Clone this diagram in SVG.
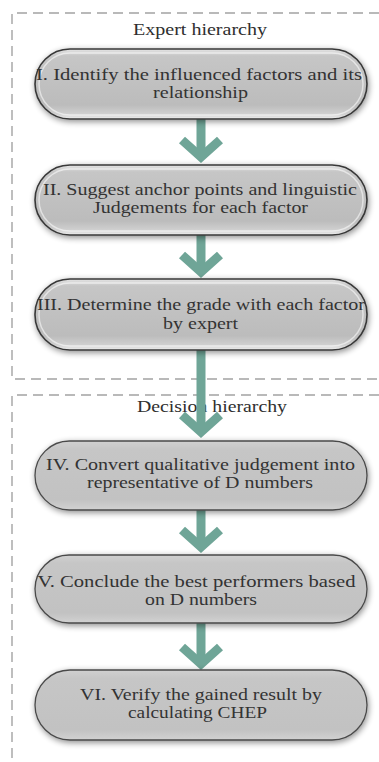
<svg xmlns="http://www.w3.org/2000/svg" width="379" height="762" viewBox="0 0 379 762">
  <defs>
    <linearGradient id="pillTop" x1="0" y1="0" x2="0" y2="1">
      <stop offset="0" stop-color="#e4e4e4"/>
      <stop offset="0.1" stop-color="#c6c6c6"/>
      <stop offset="0.8" stop-color="#bcbcbc"/>
      <stop offset="0.93" stop-color="#d0d0d0"/>
      <stop offset="1" stop-color="#eeeeee"/>
    </linearGradient>
    <linearGradient id="pillBot" x1="0" y1="0" x2="0" y2="1">
      <stop offset="0" stop-color="#d0d0d0"/>
      <stop offset="0.12" stop-color="#c6c6c6"/>
      <stop offset="0.85" stop-color="#c2c2c2"/>
      <stop offset="1" stop-color="#d2d2d2"/>
    </linearGradient>
    <filter id="shadow" x="-10%" y="-30%" width="120%" height="160%">
      <feGaussianBlur in="SourceAlpha" stdDeviation="3"/>
      <feOffset dx="1" dy="2" result="b"/>
      <feComponentTransfer><feFuncA type="linear" slope="0.45"/></feComponentTransfer>
      <feMerge><feMergeNode/><feMergeNode in="SourceGraphic"/></feMerge>
    </filter>
  </defs>
  <style>
    .dash { fill: none; stroke: #a3a3a3; stroke-width: 1.4; stroke-dasharray: 10 6; }
    .title { font-family: "Liberation Serif", "Times New Roman", serif; font-size: 16px; fill: #2e2e2e; text-anchor: middle; }
    .lbl { font-family: "Liberation Serif", "Times New Roman", serif; font-size: 17px; fill: #333333; text-anchor: middle; }
    .pillA { fill: url(#pillTop); stroke: #383838; stroke-width: 1.6; filter: url(#shadow); }
    .pillB { fill: url(#pillBot); stroke: #4a4a4a; stroke-width: 1.3; filter: url(#shadow); }
    .shine { fill: none; stroke: #ffffff; stroke-opacity: 0.55; stroke-width: 1.5; }
    .shaft { fill: #6fa597; }
    .chev { fill: none; stroke: #6fa597; stroke-width: 9; stroke-linejoin: miter; stroke-linecap: butt; }
  </style>

  <g id="expert-hierarchy">
    <path class="dash" d="M379,13 H12 V379 H379"/>
    <text class="title" x="200" y="35" textLength="134" lengthAdjust="spacingAndGlyphs">Expert hierarchy</text>
  </g>
  <g id="decision-hierarchy">
    <path class="dash" d="M379,395 H12 V762"/>
    <text class="title" x="212" y="412" textLength="150" lengthAdjust="spacingAndGlyphs">Decision hierarchy</text>
  </g>

  <g id="connectors">
    <rect class="shaft" x="196.5" y="117" width="9" height="41"/>
    <polyline class="chev" points="182,140 201,157 220,140"/>
    <rect class="shaft" x="196.5" y="233" width="9" height="40"/>
    <polyline class="chev" points="182,255 201,272 220,255"/>
    <rect class="shaft" x="196.5" y="348" width="9" height="85"/>
    <polyline class="chev" points="182,415 201,432 220,415"/>
    <rect class="shaft" x="196.5" y="508" width="9" height="40"/>
    <polyline class="chev" points="182,530 201,547 220,530"/>
    <rect class="shaft" x="196.5" y="621" width="9" height="44"/>
    <polyline class="chev" points="182,647 201,664 220,647"/>
  </g>

  <g id="node-1">
    <rect class="pillA" x="35" y="49" width="332" height="70" rx="35"/>
    <rect class="shine" x="39" y="53" width="324" height="62" rx="31"/>
    <text class="lbl" x="199" y="80" textLength="326" lengthAdjust="spacingAndGlyphs">I. Identify the influenced factors and its</text>
    <text class="lbl" x="200.5" y="98" textLength="95" lengthAdjust="spacingAndGlyphs">relationship</text>
  </g>
  <g id="node-2">
    <rect class="pillA" x="35" y="165" width="332" height="70" rx="35"/>
    <rect class="shine" x="39" y="169" width="324" height="62" rx="31"/>
    <text class="lbl" x="200" y="195" textLength="314" lengthAdjust="spacingAndGlyphs">II. Suggest anchor points and linguistic</text>
    <text class="lbl" x="200.5" y="213" textLength="215" lengthAdjust="spacingAndGlyphs">Judgements for each factor</text>
  </g>
  <g id="node-3">
    <rect class="pillA" x="35" y="279" width="332" height="71" rx="35"/>
    <rect class="shine" x="39" y="283" width="324" height="63" rx="31"/>
    <text class="lbl" x="201" y="310" textLength="328" lengthAdjust="spacingAndGlyphs">III. Determine the grade with each factor</text>
    <text class="lbl" x="200.5" y="329" textLength="75" lengthAdjust="spacingAndGlyphs">by expert</text>
  </g>
  <g id="node-4">
    <rect class="pillB" x="35" y="441" width="332" height="69" rx="34.5"/>
    <text class="lbl" x="200.5" y="470" textLength="309" lengthAdjust="spacingAndGlyphs">IV. Convert qualitative judgement into</text>
    <text class="lbl" x="200" y="488" textLength="226" lengthAdjust="spacingAndGlyphs">representative of D numbers</text>
  </g>
  <g id="node-5">
    <rect class="pillB" x="35" y="555" width="332" height="68" rx="34"/>
    <text class="lbl" x="196.5" y="587" textLength="318" lengthAdjust="spacingAndGlyphs">V. Conclude the best performers based</text>
    <text class="lbl" x="201" y="605" textLength="112" lengthAdjust="spacingAndGlyphs">on D numbers</text>
  </g>
  <g id="node-6">
    <rect class="pillB" x="35" y="670" width="332" height="70" rx="35"/>
    <text class="lbl" x="201" y="700" textLength="242" lengthAdjust="spacingAndGlyphs">VI. Verify the gained result by</text>
    <text class="lbl" x="197.5" y="718" textLength="139" lengthAdjust="spacingAndGlyphs">calculating CHEP</text>
  </g>
</svg>
